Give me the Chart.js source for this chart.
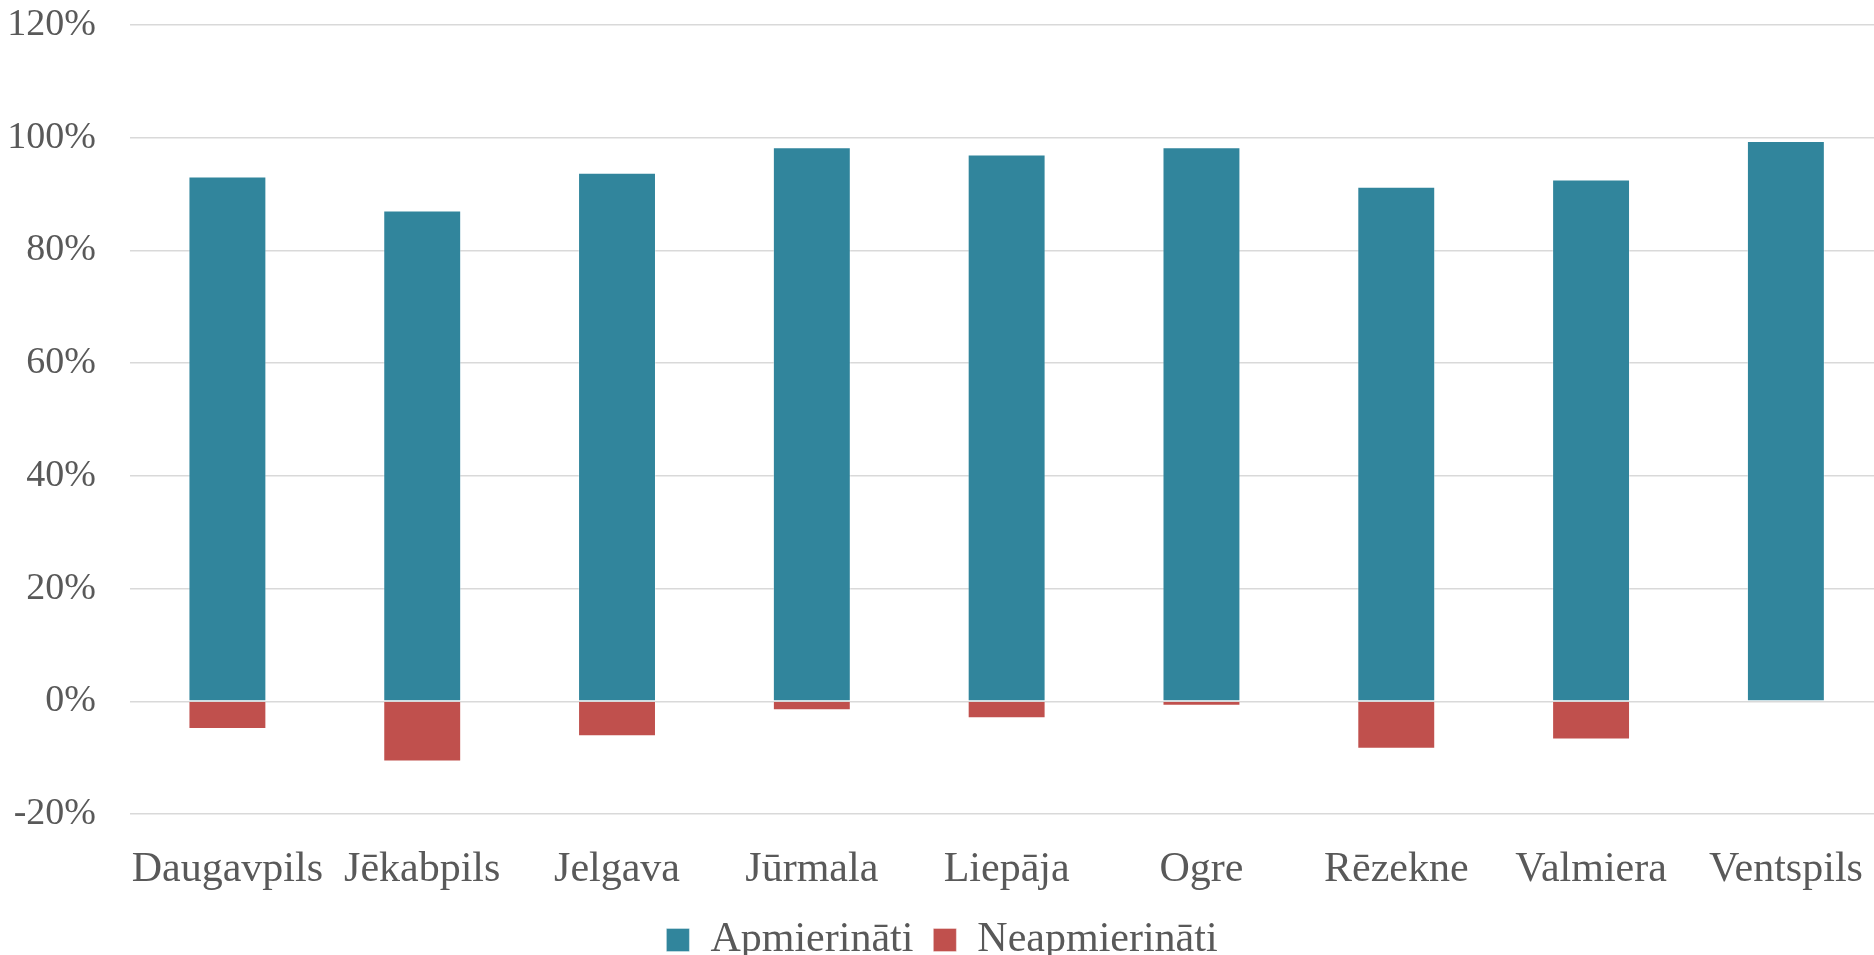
<!DOCTYPE html>
<html lang="lv">
<head>
  <meta charset="UTF-8">
  <title>Apmierinātība pa pilsētām</title>
  <script src="https://cdn.jsdelivr.net/npm/chart.js"></script>
  <style>
    html, body {
      margin: 0;
      padding: 0;
      background: #fff;
      overflow: hidden;
    }
    #wrap {
      width: 1886px;
      height: 971px;
    }
  </style>
</head>
<body>
  <div id="wrap"><canvas id="chart" width="1886" height="971"></canvas></div>

  <script>
    const cities = ['Daugavpils', 'Jēkabpils', 'Jelgava', 'Jūrmala', 'Liepāja', 'Ogre', 'Rēzekne', 'Valmiera', 'Ventspils'];
    const satisfied = [93.1, 87.1, 93.8, 98.3, 97.0, 98.3, 91.3, 92.6, 99.4];
    const unsatisfied = [-4.9, -10.7, -6.2, -1.6, -3.0, -0.8, -8.4, -6.8, 0];
    const yTicks = [-20, 0, 20, 40, 60, 80, 100, 120];

    const serif = '"Liberation Serif", "Times New Roman", serif';
    const grey = '#595959';

    new Chart(document.getElementById('chart'), {
      type: 'bar',
      data: {
        labels: cities,
        datasets: [
          {
            label: 'Apmierināti',
            data: satisfied,
            backgroundColor: '#31859C',
            borderColor: 'rgba(255,255,255,0.35)',
            borderWidth: 1,
            barPercentage: 0.4,
            categoryPercentage: 1.0
          },
          {
            label: 'Neapmierināti',
            data: unsatisfied,
            backgroundColor: '#C0504D',
            borderColor: 'rgba(255,255,255,0.35)',
            borderWidth: 1,
            barPercentage: 0.4,
            categoryPercentage: 1.0
          }
        ]
      },
      options: {
        responsive: false,
        animation: false,
        layout: { padding: { top: 25, right: 2, left: 0, bottom: 0 } },
        scales: {
          x: {
            stacked: true,
            afterFit: s => { s.height = 85; },
            grid: { display: false },
            border: { display: false },
            ticks: {
              color: grey,
              padding: 23,
              maxRotation: 0,
              font: { family: serif, size: 42 }
            }
          },
          y: {
            stacked: true,
            min: -20,
            max: 120,
            afterFit: s => {
              s.width = 130;
              s.paddingTop = 0;
              s.paddingBottom = 0;
            },
            afterBuildTicks: s => { s.ticks = yTicks.map(v => ({ value: v })); },
            grid: { color: '#D9D9D9', lineWidth: 1.5, drawTicks: false },
            border: { display: false },
            ticks: {
              color: grey,
              padding: 34,
              font: { family: serif, size: 38 },
              callback: v => v + '%'
            }
          }
        },
        plugins: {
          legend: {
            position: 'bottom',
            labels: {
              color: grey,
              boxWidth: 23,
              boxHeight: 23,
              padding: 20,
              font: { family: serif, size: 42 }
            }
          },
          tooltip: { enabled: false }
        }
      }
    });
  </script>
</body>
</html>
